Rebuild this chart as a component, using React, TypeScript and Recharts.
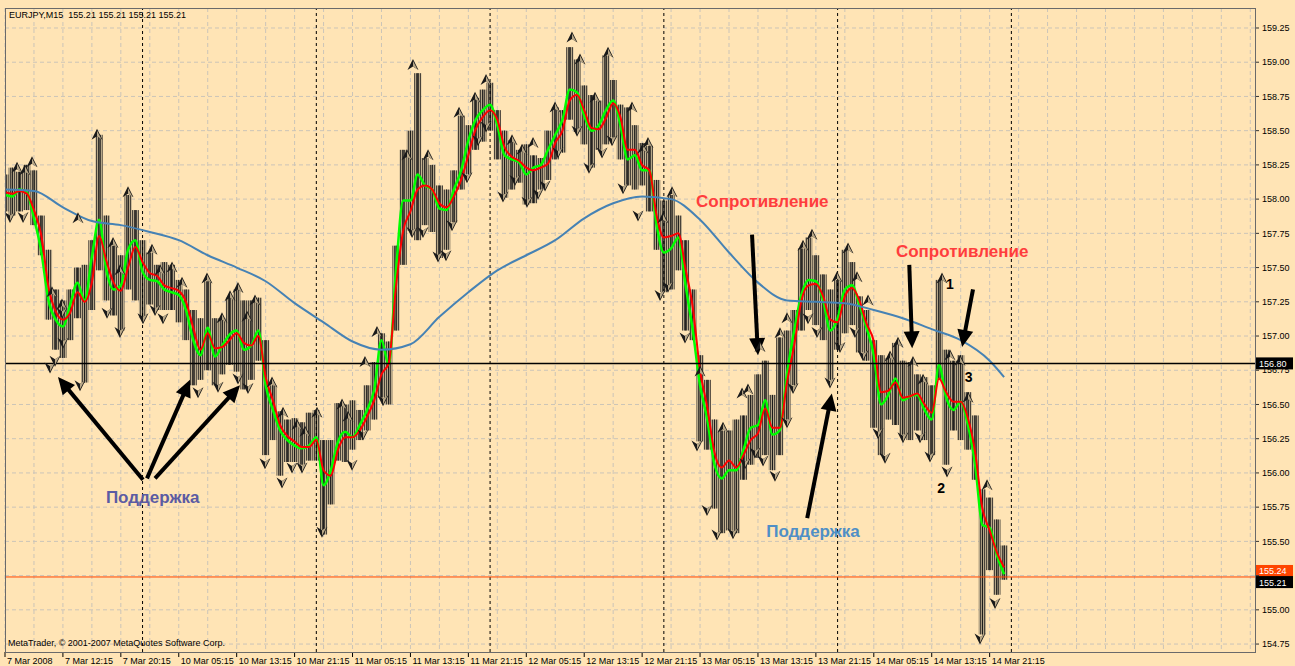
import { ComposedChart, Bar, Line, Scatter, XAxis, YAxis, CartesianGrid, ReferenceLine, ReferenceDot } from 'recharts'

// EURJPY M15, one point per hour slot (slot 0 = 7 Mar 04:15)
const xLabels = ['7 Mar 2008', '7 Mar 12:15', '7 Mar 20:15', '10 Mar 05:15', '10 Mar 13:15', '10 Mar 21:15',
  '11 Mar 05:15', '11 Mar 13:15', '11 Mar 21:15', '12 Mar 05:15', '12 Mar 13:15', '12 Mar 21:15',
  '13 Mar 05:15', '13 Mar 13:15', '13 Mar 21:15', '14 Mar 05:15', '14 Mar 13:15', '14 Mar 21:15']
const xTickSlots = [0, 8, 16, 24, 32, 40, 48, 56, 64, 72, 80, 88, 96, 104, 112, 120, 128, 136]
const daySeparators = [19, 43, 67, 91, 115, 139]
const yTicks = [154.75, 155, 155.25, 155.5, 155.75, 156, 156.25, 156.5, 156.75, 157, 157.25, 157.5, 157.75, 158, 158.25, 158.5, 158.75, 159, 159.25]
// scale label hidden under the bid/ask markers
const coveredTick = 155.25

const highs = [158.18, 158.23, 158.20, 158.25, 158.21, 157.88, 157.63, 157.34, 157.26, 157.34,
  157.50, 157.52, 157.70, 158.47, 157.88, 157.66, 157.59, 158.03, 157.92, 157.70,
  157.61, 157.52, 157.54, 157.52, 157.41, 157.34, 157.19, 157.13, 157.40, 157.13,
  157.13, 157.28, 157.34, 157.26, 157.26, 157.28, 156.97, 156.64, 156.45, 156.39,
  156.40, 156.37, 156.44, 156.46, 156.24, 156.24, 156.51, 156.50, 156.53, 156.46,
  156.64, 156.81, 157.02, 156.96, 157.66, 158.36, 158.50, 158.92, 158.30, 158.25,
  158.10, 158.07, 158.21, 158.61, 158.54, 158.74, 158.80, 158.85, 158.65, 158.50,
  158.43, 158.36, 158.40, 158.32, 158.30, 158.50, 158.67, 158.65, 159.11, 159.02,
  158.83, 158.76, 158.72, 159.05, 158.87, 158.69, 158.67, 158.54, 158.41, 158.39,
  158.14, 157.99, 158.03, 157.88, 157.70, 157.34, 156.86, 156.68, 156.39, 156.31,
  156.31, 156.39, 156.42, 156.57, 156.72, 156.82, 156.57, 156.99, 157.04, 157.19,
  157.64, 157.72, 157.59, 157.45, 157.34, 157.41, 157.63, 157.54, 157.29, 157.19,
  156.97, 156.86, 156.84, 156.95, 156.82, 156.81, 156.72, 156.70, 156.64, 157.41,
  156.90, 156.82, 156.86, 156.59, 156.42, 155.88, 155.82, 155.66, 155.47]

const lows = [157.91, 157.88, 157.91, 157.92, 157.81, 157.59, 157.12, 156.90, 156.84, 156.97,
  157.13, 156.66, 157.19, 157.48, 157.26, 157.15, 157.04, 157.34, 157.26, 157.13,
  157.23, 157.19, 157.19, 157.19, 157.10, 156.97, 156.64, 156.68, 156.75, 156.64,
  156.72, 156.79, 156.74, 156.61, 156.68, 156.82, 156.13, 156.24, 155.98, 156.08,
  156.08, 156.06, 156.09, 156.09, 155.55, 155.77, 156.09, 156.08, 156.17, 156.24,
  156.31, 156.39, 156.55, 156.50, 157.04, 157.52, 157.77, 157.70, 157.81, 157.76,
  157.57, 157.63, 157.83, 158.07, 158.18, 158.36, 158.42, 158.50, 158.29, 158.01,
  158.07, 158.12, 157.96, 157.97, 158.07, 158.14, 158.29, 158.34, 158.58, 158.49,
  158.40, 158.23, 158.36, 158.40, 158.45, 158.29, 158.10, 158.07, 158.10, 157.91,
  157.63, 157.32, 157.34, 157.48, 157.04, 156.97, 156.23, 156.17, 155.74, 155.56,
  155.58, 155.56, 155.95, 156.06, 156.11, 156.13, 156.02, 156.13, 156.39, 156.64,
  157.04, 157.19, 157.08, 156.97, 156.68, 156.90, 157.02, 157.08, 156.88, 156.82,
  156.33, 156.13, 156.39, 156.35, 156.28, 156.24, 156.31, 156.24, 156.13, 156.68,
  156.06, 156.31, 156.24, 156.17, 155.95, 154.82, 155.29, 155.11, 155.22]

// green (fast) moving average
const fastMa = [158.03, 158.02, 158.07, 158.05, 157.86, 157.62, 157.26, 157.12, 157.07, 157.23,
  157.39, 157.26, 157.58, 157.85, 157.48, 157.34, 157.37, 157.63, 157.70, 157.47,
  157.41, 157.40, 157.34, 157.32, 157.30, 157.19, 156.97, 156.86, 157.06, 156.85,
  156.93, 157.01, 157.04, 156.90, 156.93, 157.04, 156.64, 156.46, 156.31, 156.24,
  156.20, 156.18, 156.20, 156.26, 155.91, 156.02, 156.23, 156.30, 156.26, 156.35,
  156.46, 156.61, 156.97, 156.79, 157.48, 157.99, 157.99, 158.18, 158.10, 158.07,
  157.93, 157.92, 158.07, 158.21, 158.43, 158.58, 158.65, 158.69, 158.54, 158.32,
  158.29, 158.27, 158.18, 158.23, 158.25, 158.36, 158.47, 158.58, 158.80, 158.78,
  158.61, 158.50, 158.54, 158.65, 158.72, 158.54, 158.29, 158.32, 158.21, 158.21,
  157.81, 157.61, 157.64, 157.72, 157.37, 157.04, 156.64, 156.39, 156.06, 155.96,
  156.02, 156.02, 156.17, 156.33, 156.35, 156.53, 156.28, 156.31, 156.72, 157.04,
  157.30, 157.41, 157.40, 157.26, 157.04, 157.13, 157.34, 157.37, 157.23, 157.06,
  156.86, 156.50, 156.57, 156.69, 156.53, 156.56, 156.57, 156.46, 156.39, 156.79,
  156.55, 156.46, 156.52, 156.35, 156.06, 155.62, 155.60, 155.40, 155.26]

// red (slower) moving average
const slowMa = [158.05, 158.04, 158.06, 158.04, 157.92, 157.74, 157.36, 157.18, 157.12, 157.17,
  157.32, 157.25, 157.39, 157.73, 157.55, 157.39, 157.33, 157.50, 157.65, 157.54,
  157.46, 157.44, 157.37, 157.35, 157.33, 157.25, 157.06, 156.90, 157.02, 156.91,
  156.92, 156.97, 157.02, 156.95, 156.93, 157.00, 156.70, 156.53, 156.35, 156.27,
  156.23, 156.19, 156.19, 156.24, 156.02, 155.98, 156.17, 156.26, 156.26, 156.31,
  156.41, 156.53, 156.72, 156.80, 157.36, 157.77, 157.91, 158.07, 158.10, 158.07,
  157.97, 157.94, 158.02, 158.14, 158.32, 158.51, 158.60, 158.65, 158.58, 158.38,
  158.31, 158.28, 158.23, 158.21, 158.23, 158.26, 158.41, 158.50, 158.72, 158.76,
  158.65, 158.52, 158.51, 158.59, 158.70, 158.60, 158.36, 158.36, 158.25, 158.21,
  157.88, 157.72, 157.73, 157.75, 157.49, 157.21, 156.75, 156.48, 156.15, 156.04,
  156.09, 156.04, 156.13, 156.24, 156.29, 156.47, 156.33, 156.33, 156.66, 156.93,
  157.26, 157.37, 157.38, 157.29, 157.12, 157.10, 157.29, 157.35, 157.26, 157.09,
  156.96, 156.59, 156.60, 156.66, 156.55, 156.56, 156.58, 156.50, 156.44, 156.69,
  156.59, 156.52, 156.52, 156.40, 156.15, 155.74, 155.58, 155.42, 155.31]

// blue long moving average, read every 4 slots
const longMaSlots = [0, 4, 8, 12, 16, 20, 24, 28, 32, 36, 40, 44, 48, 52, 56, 60, 64, 68, 72, 76, 80, 84, 88, 92, 96, 100, 104, 108, 112, 116, 120, 124, 128, 132, 136, 138]
const longMa = [158.07, 158.06, 157.94, 157.84, 157.81, 157.76, 157.70, 157.59, 157.50, 157.40, 157.24, 157.10, 156.96, 156.90, 156.94, 157.14, 157.32, 157.48, 157.59, 157.70, 157.86, 157.97, 158.02, 158.00, 157.85, 157.61, 157.39, 157.26, 157.25, 157.24, 157.19, 157.13, 157.05, 156.97, 156.82, 156.70]

// fractals (slot, price)
const upFractalSlot = [1.66, 2.76, 3.73, 6.49, 7.87, 10.08, 12.71, 14.92, 15.88, 16.99, 20.3, 21.41, 23.07, 24.45, 27.9, 29.97, 31.08, 32.18, 33.43, 34.53,
  36.88, 38.4, 40.33, 41.44, 43.09, 46.55, 47.38, 49.72, 51.38, 55.52, 56.35, 58.43, 62.71, 64.92, 66.44, 70.03, 71.41, 72.93, 75.97, 78.31,
  79.42, 81.49, 83.29, 86.6, 88.12, 88.81, 90.88, 92.13, 96.0, 99.17, 101.8, 102.62, 104.28, 107.04, 108.01, 110.22, 111.46, 114.92, 116.44, 117.68,
  119.2, 122.24, 123.34, 125.41, 126.8, 129.42, 130.52, 131.91, 133.01, 135.64]
const upFractalPrice = [158.23, 158.21, 158.27, 157.32, 157.23, 157.86, 158.47, 157.68, 157.48, 158.05, 157.63, 157.48, 157.5, 157.39, 157.42, 157.13, 157.29, 157.35, 157.14, 157.26,
  156.66, 156.44, 156.35, 156.3, 156.44, 156.5, 156.41, 156.81, 157.03, 158.32, 158.98, 158.32, 158.63, 158.74, 158.87, 158.43, 158.36, 158.41, 158.67, 159.18,
  159.02, 158.74, 159.07, 158.67, 158.37, 158.41, 157.86, 158.05, 156.74, 156.33, 156.58, 156.61, 156.92, 157.02, 157.13, 157.66, 157.74, 157.43, 157.64, 157.43,
  157.26, 156.85, 156.95, 156.81, 156.68, 157.42, 156.86, 156.82, 156.55, 155.91]
const downFractalSlot = [0.69, 2.49, 6.22, 6.91, 8.01, 7.87, 10.36, 14.09, 15.88, 19.06, 20.72, 21.82, 26.66, 29.42, 32.18, 33.56, 35.91, 38.26, 39.64, 41.02,
  43.78, 47.93, 49.45, 52.21, 56.22, 57.73, 59.81, 60.91, 61.74, 63.81, 65.33, 66.44, 68.78, 70.44, 72.1, 73.62, 74.59, 76.38, 79.01, 80.66,
  82.46, 83.84, 85.36, 87.43, 90.47, 91.57, 93.92, 95.58, 96.96, 98.34, 100.55, 102.21, 103.59, 104.7, 106.35, 108.01, 108.84, 110.91, 112.15, 113.95,
  115.33, 117.4, 118.51, 120.58, 121.55, 124.03, 126.38, 127.76, 130.11, 134.67, 136.74]
const downFractalPrice = [157.87, 157.87, 156.77, 156.82, 156.95, 157.17, 156.64, 157.17, 157.03, 157.13, 157.19, 157.13, 156.59, 156.63, 156.69, 156.62, 156.07, 155.93, 156.04, 156.04,
  155.57, 156.06, 156.28, 156.53, 157.76, 157.76, 157.58, 157.59, 157.81, 158.16, 158.43, 158.53, 158.02, 158.14, 157.98, 158.04, 158.1, 158.34, 158.5, 158.23,
  158.34, 158.43, 158.08, 157.88, 157.3, 157.36, 156.99, 156.2, 155.73, 155.55, 155.56, 156.07, 156.15, 156.09, 155.98, 156.37, 156.62, 157.13, 157.03, 156.66,
  156.92, 157.03, 156.86, 156.29, 156.11, 156.26, 156.26, 156.12, 156.01, 154.79, 155.05]

// hand-drawn annotations: [fromSlot, fromPrice, toSlot, toPrice]
const arrows = [
  [19.06, 155.95, 7.32, 156.70],
  [19.61, 155.96, 25.55, 156.68],
  [20.72, 155.96, 32.46, 156.64],
  [103.18, 157.74, 104.0, 156.86],
  [110.8, 155.67, 114.2, 156.58],
  [124.9, 157.52, 125.3, 156.91],
  [133.7, 157.34, 132.2, 156.92],
]
const notes = [
  { text: 'Поддержка', slot: 20.4, price: 155.82, color: '#5b5ba3', size: 17 },
  { text: 'Сопротивление', slot: 104.6, price: 157.98, color: '#ff3d3d', size: 17 },
  { text: 'Поддержка', slot: 111.6, price: 155.57, color: '#4f8fc6', size: 17 },
  { text: 'Сопротивление', slot: 132.2, price: 157.62, color: '#ff3d3d', size: 17 },
  { text: '1', slot: 130.5, price: 157.38, color: '#000', size: 14 },
  { text: '2', slot: 129.3, price: 155.89, color: '#000', size: 14 },
  { text: '3', slot: 133.1, price: 156.70, color: '#000', size: 14 },
]

const levelPrice = 156.80
const askPrice = 155.24
const bidPrice = 155.21

const FONT = '"Liberation Sans", Arial, sans-serif'
const BG = '#ffe4b5'
const X_MAX = 172.65
const gridSlots = Array.from({ length: 44 }, (_, i) => i * 4)

const rows = highs.map((h, i) => {
  const k = longMaSlots.indexOf(i)
  return { slot: i, range: [lows[i], h], fast: fastMa[i], slow: slowMa[i], long: k >= 0 ? longMa[k] : null }
})
const upPts = upFractalSlot.map((s, i) => ({ slot: s, price: upFractalPrice[i] }))
const downPts = downFractalSlot.map((s, i) => ({ slot: s, price: downFractalPrice[i] }))

// each hourly range is filled with a fine vertical hatch, like packed M15 bars
function BarShape(p: any) {
  const { x, y, width, height } = p
  const cx = x + width / 2
  return (
    <g>
      <rect x={cx - 3.6} y={y} width={7.2} height={height} fill="url(#barHatch)" />
      <line x1={cx} x2={cx} y1={y} y2={y + height} stroke="#1a1a1a" strokeWidth={1} />
    </g>
  )
}

function UpFractal({ cx, cy }: any) {
  return (
    <g>
      <polygon points={`${cx},${cy - 6} ${cx + 5.5},${cy + 5} ${cx},${cy + 1.5} ${cx - 5.5},${cy + 5}`} fill="#1a1a1a" />
      <polygon points={`${cx},${cy - 4} ${cx + 4.5},${cy + 4.5} ${cx},${cy + 1.5}`} fill="#b9a888" />
    </g>
  )
}

function DownFractal({ cx, cy }: any) {
  return (
    <g>
      <polygon points={`${cx},${cy + 6} ${cx + 5.5},${cy - 5} ${cx},${cy - 1.5} ${cx - 5.5},${cy - 5}`} fill="#1a1a1a" />
      <polygon points={`${cx},${cy + 4} ${cx + 4.5},${cy - 4.5} ${cx},${cy - 1.5}`} fill="#b9a888" />
    </g>
  )
}

function Arrow(p: any) {
  const { x1, y1, x2, y2 } = p
  const dx = x2 - x1, dy = y2 - y1
  const len = Math.hypot(dx, dy)
  const ux = dx / len, uy = dy / len
  const hl = 17, hw = 8
  const bx = x2 - ux * hl, by = y2 - uy * hl
  return (
    <g>
      <line x1={x1} y1={y1} x2={bx + ux * 2} y2={by + uy * 2} stroke="#000" strokeWidth={4} />
      <polygon points={`${x2},${y2} ${bx - uy * hw},${by + ux * hw} ${bx + uy * hw},${by - ux * hw}`} fill="#000" />
    </g>
  )
}

function XTick({ x, y, payload }: any) {
  const label = xLabels[xTickSlots.indexOf(payload.value)]
  return (
    <g>
      <line x1={x} y1={y} x2={x} y2={y + 5} stroke="#000" />
      <text x={x + 2} y={y + 12} fontSize={9} fontFamily={FONT} fill="#000">{label}</text>
    </g>
  )
}

// price marker on the right scale; lift moves the box up from the line
const priceBox = (text: string, bg: string, fg: string, lift: number) => (props: any) => {
  const vb = props.viewBox
  const x = vb.x + vb.width + 1
  const y = vb.y - lift
  return (
    <g>
      <rect x={x} y={y - 6} width={37} height={12} fill={bg} />
      <text x={x + 3} y={y + 3.5} fontSize={9} fontFamily={FONT} fill={fg}>{text}</text>
    </g>
  )
}

export default function App() {
  return (
    <div style={{ position: 'absolute', left: 0, top: 0, width: 1295, height: 666, background: BG, fontFamily: FONT }}>
      <svg width={0} height={0} style={{ position: 'absolute' }}>
        <defs>
          <pattern id="barHatch" width={2} height={4} patternUnits="userSpaceOnUse">
            <rect x={0} y={0} width={1} height={4} fill="#48423a" />
            <rect x={1} y={0} width={1} height={4} fill="#b6a789" />
          </pattern>
        </defs>
      </svg>
      <ComposedChart width={1295} height={666} data={rows} margin={{ top: 8, right: 0, bottom: 0, left: 5 }}>
        <CartesianGrid stroke="#cbc4b8" strokeDasharray="4 3" verticalValues={gridSlots} horizontalValues={yTicks} />
        <XAxis type="number" dataKey="slot" domain={[0, X_MAX]} allowDataOverflow ticks={xTickSlots} interval={0}
          tick={(p: any) => <XTick {...p} />} tickLine={false} axisLine={false} height={14} tickSize={0} tickMargin={0} />
        <YAxis orientation="right" domain={[154.692, 159.396]} allowDataOverflow ticks={yTicks} interval={0} width={40}
          tick={{ fontSize: 9, fill: '#000', fontFamily: FONT }}
          tickFormatter={(v: number) => (v === coveredTick ? '' : v.toFixed(2))}
          tickSize={4} tickMargin={3} axisLine={false} tickLine={{ stroke: '#333' }} />
        {daySeparators.map(s => (
          <ReferenceLine key={s} x={s} stroke="#000" strokeDasharray="3 3" ifOverflow="visible" />
        ))}
        <Bar dataKey="range" barSize={5} shape={BarShape} isAnimationActive={false} />
        <Line dataKey="fast" type="monotone" stroke="#00ff00" strokeWidth={2.5} dot={false} isAnimationActive={false} />
        <Line dataKey="slow" type="monotone" stroke="#ff0000" strokeWidth={2} dot={false} isAnimationActive={false} />
        <Line dataKey="long" type="monotone" stroke="#4682b4" strokeWidth={2} dot={false} connectNulls isAnimationActive={false} />
        <Scatter data={upPts} dataKey="price" shape={UpFractal} isAnimationActive={false} />
        <Scatter data={downPts} dataKey="price" shape={DownFractal} isAnimationActive={false} />
        <ReferenceLine y={levelPrice} stroke="#000" strokeWidth={1.5} label={priceBox(levelPrice.toFixed(2), '#000', '#fff', 0)} />
        <ReferenceLine y={askPrice} stroke="#ff4500" strokeWidth={1} label={priceBox(askPrice.toFixed(2), '#ff4500', '#fff', 6)} />
        <ReferenceLine y={bidPrice} stroke="none" label={priceBox(bidPrice.toFixed(2), '#000', '#fff', -1)} />
        {arrows.map((a, i) => (
          <ReferenceLine key={'a' + i} segment={[{ x: a[0], y: a[1] }, { x: a[2], y: a[3] }]} ifOverflow="visible" shape={Arrow} />
        ))}
        {notes.map((n, i) => (
          <ReferenceDot key={'n' + i} x={n.slot} y={n.price} r={1} ifOverflow="visible"
            shape={(p: any) => (
              <text x={p.cx} y={p.cy} textAnchor="middle" dominantBaseline="central" fontSize={n.size}
                fontWeight="bold" fontFamily={FONT} fill={n.color}>{n.text}</text>
            )} />
        ))}
      </ComposedChart>
      <div style={{ position: 'absolute', left: 5, top: 8, width: 1249, height: 643, border: '1px solid #6a6a6a', pointerEvents: 'none' }} />
      <div style={{ position: 'absolute', left: 9, top: 10, fontSize: 9, whiteSpace: 'pre', color: '#000' }}>
        EURJPY,M15  155.21 155.21 155.21 155.21
      </div>
      <div style={{ position: 'absolute', left: 8, top: 638, fontSize: 9, whiteSpace: 'pre', color: '#000' }}>
        MetaTrader, © 2001-2007 MetaQuotes Software Corp.
      </div>
    </div>
  )
}
